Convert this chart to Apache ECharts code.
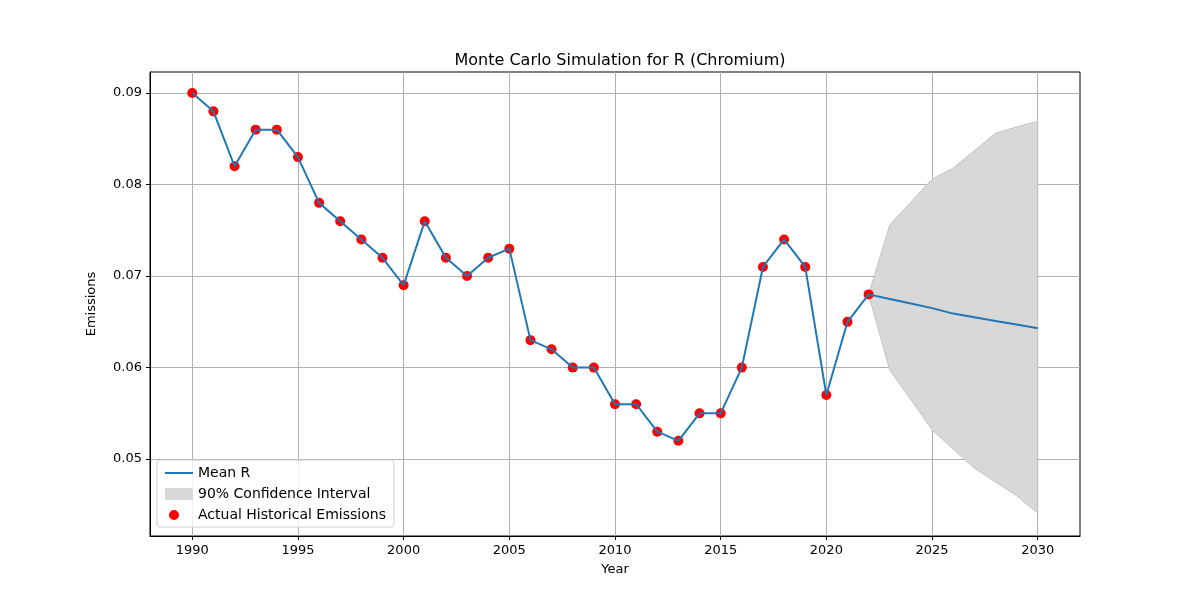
<!DOCTYPE html>
<html>
<head>
<meta charset="utf-8">
<script src="https://cdn.jsdelivr.net/npm/echarts@6/dist/echarts.min.js"></script>
<style>
  html, body { margin: 0; padding: 0; background: #fff; }
  #chart { width: 1200px; height: 600px; }
</style>
</head>
<body>
<div id="chart"></div>
<script>
// historical data
const histYears = [1990, 1991, 1992, 1993, 1994, 1995, 1996, 1997, 1998, 1999, 2000,
  2001, 2002, 2003, 2004, 2005, 2006, 2007, 2008, 2009, 2010,
  2011, 2012, 2013, 2014, 2015, 2016, 2017, 2018, 2019, 2020, 2021, 2022];
const histValues = [0.090, 0.088, 0.082, 0.086, 0.086, 0.083, 0.078, 0.076, 0.074, 0.072, 0.069,
  0.076, 0.072, 0.070, 0.072, 0.073, 0.063, 0.062, 0.060, 0.060, 0.056,
  0.056, 0.053, 0.052, 0.055, 0.055, 0.060, 0.071, 0.074, 0.071, 0.057, 0.065, 0.068];

// forecast (starts at last actual year)
const fcYears = [2022, 2023, 2024, 2025, 2026, 2027, 2028, 2029, 2030];
const fcMean  = [0.0680, 0.0675, 0.0670, 0.0665, 0.0659, 0.0655, 0.0651, 0.0647, 0.0643];
const fcLower = [0.0680, 0.0597, 0.0565, 0.0532, 0.0511, 0.0490, 0.0475, 0.0460, 0.0441];
const fcUpper = [0.0680, 0.0756, 0.0781, 0.0806, 0.0818, 0.0837, 0.0856, 0.0863, 0.0869];

const xTicks = [1990, 1995, 2000, 2005, 2010, 2015, 2020, 2025, 2030];
const yTicks = [0.05, 0.06, 0.07, 0.08, 0.09];

const meanLine = histYears.map((y, i) => [y, histValues[i]])
  .concat(fcYears.slice(1).map((y, i) => [y, fcMean[i + 1]]));
const scatterData = histYears.map((y, i) => [y, histValues[i]]);
const bandData = fcYears.map((y, i) => [y, fcLower[i], fcUpper[i]]);

// whole band drawn as one polygon, through the axis scales
function renderBand(params, api) {
  if (params.dataIndex !== 0) return;
  const pts = [];
  fcYears.forEach((y, i) => pts.push(api.coord([y, fcUpper[i]])));
  for (let i = fcYears.length - 1; i >= 0; i--) pts.push(api.coord([fcYears[i], fcLower[i]]));
  return {
    type: 'polygon',
    shape: { points: pts },
    style: { fill: '#d8d8d8', stroke: '#c2c2c2', lineWidth: 1 }
  };
}

const font = 'DejaVu Sans';
const chart = echarts.init(document.getElementById('chart'));
chart.setOption({
  animation: false,
  textStyle: { fontFamily: font },
  title: {
    text: 'Monte Carlo Simulation for R (Chromium)',
    left: 615, top: 48, textAlign: 'center',
    textStyle: { fontFamily: font, fontSize: 16, fontWeight: 'normal', color: '#000' }
  },
  grid: { left: 150, right: 120, top: 72, bottom: 64, show: true,
    borderColor: '#000', borderWidth: 1, backgroundColor: 'transparent' },
  xAxis: {
    type: 'value', min: 1988, max: 2032,
    name: 'Year', nameLocation: 'middle', nameGap: 27,
    nameTextStyle: { fontSize: 13, color: '#000' },
    axisLine: { onZero: false, lineStyle: { color: '#000' } },
    axisTick: { customValues: xTicks, length: 4, lineStyle: { color: '#000' } },
    axisLabel: { customValues: xTicks, fontSize: 13, color: '#000', margin: 8,
      formatter: v => String(v) },
    splitLine: { show: true, lineStyle: { color: '#b0b0b0', width: 1 } }
  },
  yAxis: {
    type: 'value', min: 0.0416, max: 0.0923,
    name: 'Emissions', nameLocation: 'middle', nameGap: 52, nameRotate: 90,
    nameTextStyle: { fontSize: 13, color: '#000' },
    axisLine: { show: true, onZero: false, lineStyle: { color: '#000' } },
    axisTick: { show: true, customValues: yTicks, length: 4, lineStyle: { color: '#000' } },
    axisLabel: { customValues: yTicks, fontSize: 13, color: '#000', margin: 8,
      formatter: v => v.toFixed(2) },
    splitLine: { show: true, lineStyle: { color: '#b0b0b0', width: 1 } }
  },
  legend: {
    orient: 'vertical', left: 157, top: 460,
    itemWidth: 28, itemHeight: 12, itemGap: 7,
    padding: [6, 8, 5, 8],
    borderColor: '#d0d0d0', borderWidth: 1, borderRadius: 3,
    backgroundColor: 'rgba(255,255,255,0.8)',
    textStyle: { fontSize: 14, color: '#000' },
    data: [
      { name: 'Mean R', icon: 'path://M0,5 L28,5 L28,7 L0,7 Z' },
      { name: '90% Confidence Interval', icon: 'rect', itemStyle: { color: '#d8d8d8' } },
      { name: 'Actual Historical Emissions', icon: 'path://M9,1 A5,5 0 1,1 8.99,1 Z M0,0 L0.01,0 M28,12 L27.99,12' }
    ]
  },
  series: [
    {
      name: '90% Confidence Interval', type: 'custom', data: bandData,
      renderItem: renderBand, itemStyle: { color: '#d8d8d8' }, z: 1, silent: true
    },
    {
      name: 'Actual Historical Emissions', type: 'scatter', data: scatterData,
      symbolSize: 10, itemStyle: { color: '#ff0000', opacity: 1 }, z: 2
    },
    {
      name: 'Mean R', type: 'line', data: meanLine, symbol: 'none',
      lineStyle: { color: '#1f77b4', width: 2 }, itemStyle: { color: '#1f77b4' }, z: 3
    }
  ]
});
</script>
</body>
</html>
